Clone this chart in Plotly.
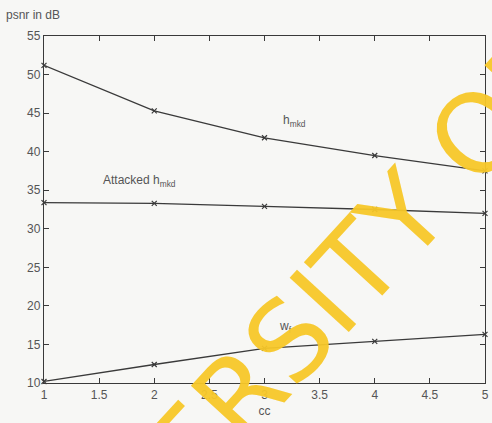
import plotly.graph_objects as go

# cc values on the x axis
cc = [1, 2, 3, 4, 5]

# PSNR (dB) for each curve
h_mkd = [51.2, 45.3, 41.8, 39.5, 37.5]
attacked_h_mkd = [33.4, 33.3, 32.9, 32.5, 32.0]
w_f = [10.2, 12.4, 14.5, 15.4, 16.3]

x_ticks = [1, 1.5, 2, 2.5, 3, 3.5, 4, 4.5, 5]
x_tick_labels = ["1", "1.5", "2", "2.5", "3", "3.5", "4", "4.5", "5"]
y_ticks = [10, 15, 20, 25, 30, 35, 40, 45, 50, 55]

W, H = 492, 423
L, R, T, B = 44, 3, 36, 40

line_color = "#3a3a3a"
text_color = "#555555"
font_family = "Liberation Sans, Arial, sans-serif"

fig = go.Figure()
for series in (h_mkd, attacked_h_mkd, w_f):
    fig.add_trace(go.Scatter(
        x=cc, y=series, mode="lines+markers",
        line=dict(color=line_color, width=1.3),
        marker=dict(symbol="x-thin", size=5, line=dict(color=line_color, width=1.2)),
        showlegend=False, cliponaxis=False,
    ))


def px_to_paper(px, py):
    return (px - L) / (W - L - R), 1 - (py - T) / (H - T - B)


annotations = []


def label(text, px, py, size=12, color=text_color, anchor="left", angle=0, family=font_family):
    xp, yp = px_to_paper(px, py)
    annotations.append(dict(
        text=text, x=xp, y=yp, xref="paper", yref="paper",
        xanchor=anchor, yanchor="middle", showarrow=False, textangle=angle,
        font=dict(size=size, color=color, family=family),
    ))


label("psnr in dB", 4, 15, size=12)
label("Attacked h<sub>mkd</sub>", 102, 181, size=12)
label("h<sub>mkd</sub>", 283, 121, size=12)
label("w<sub>f</sub>", 279, 327, size=12)

# watermark across the plot
label("UNIVERSITY OF", 270, 364, size=110, color="rgba(247,199,40,0.95)",
      anchor="center", angle=-47.5, family="DejaVu Sans, sans-serif")

fig.update_layout(
    width=W, height=H,
    margin=dict(l=L, r=R, t=T, b=B),
    paper_bgcolor="#f7f7f5", plot_bgcolor="#f7f7f5",
    font=dict(family=font_family, size=12, color=text_color),
    annotations=annotations,
    xaxis=dict(
        range=[1, 5], tickvals=x_ticks, ticktext=x_tick_labels,
        ticks="inside", ticklen=5, tickcolor=line_color, mirror="ticks",
        showline=True, linecolor=line_color, linewidth=1.3, showgrid=False, zeroline=False,
        tickfont=dict(size=12, color=text_color), ticklabeloverflow="allow",
        title=dict(text="cc", font=dict(size=12, color=text_color), standoff=6),
    ),
    yaxis=dict(
        range=[10, 55], tickvals=y_ticks,
        ticks="inside", ticklen=5, tickcolor=line_color, mirror="ticks",
        showline=True, linecolor=line_color, linewidth=1.3, showgrid=False, zeroline=False,
        tickfont=dict(size=12, color=text_color),
    ),
)

fig.write_html("out.html")
